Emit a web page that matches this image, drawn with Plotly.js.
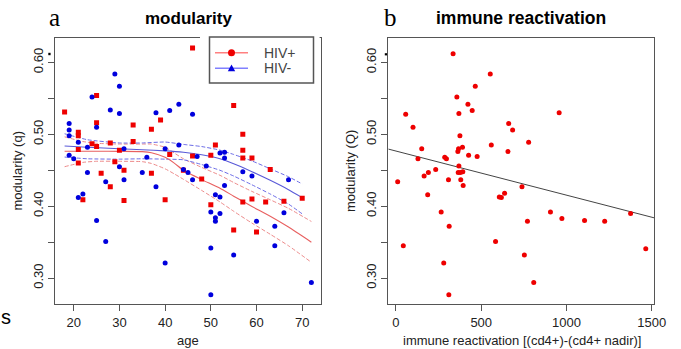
<!DOCTYPE html>
<html>
<head>
<meta charset="utf-8">
<script src="https://cdn.plot.ly/plotly-3.0.1.min.js"></script>
<style>html,body{margin:0;padding:0;background:#fff;}#chart{width:681px;height:349px;}</style>
</head>
<body>
<div id="chart"></div>
<script>
// ---------- data: panel a (modularity vs age) ----------
const hivPosAge = [18,25,25,21,21,33,39,37,33,28,24,25,21,30,41,21,29,31,26,37,28,22,31,40,44,46,55,57,51,57,46,50,57,59,63,48,50,57,59,62,66,70,55,60];
const hivPosQ   = [0.531,0.554,0.516,0.503,0.498,0.513,0.520,0.507,0.490,0.488,0.487,0.483,0.479,0.478,0.472,0.460,0.462,0.450,0.446,0.446,0.427,0.409,0.408,0.409,0.450,0.620,0.540,0.500,0.485,0.478,0.470,0.471,0.467,0.467,0.451,0.438,0.402,0.406,0.410,0.406,0.407,0.411,0.367,0.364];

const hivNegAge = [29,30,24,28,30,38,41,43,19,19,19,25,21,23,31,40,43,19,20,36,30,23,27,31,35,38,22,21,25,27,40,44,45,46,47,52,53,53,49,46,57,59,53,51,52,67,50,52,51,51,60,66,64,64,50,55,72,50];
const hivNegQ   = [0.584,0.567,0.552,0.534,0.529,0.530,0.533,0.542,0.515,0.506,0.498,0.510,0.489,0.482,0.480,0.480,0.485,0.471,0.466,0.468,0.455,0.447,0.434,0.437,0.447,0.427,0.417,0.412,0.380,0.351,0.321,0.451,0.447,0.528,0.469,0.474,0.475,0.467,0.456,0.437,0.448,0.442,0.429,0.416,0.413,0.437,0.392,0.390,0.384,0.379,0.379,0.391,0.372,0.345,0.342,0.332,0.294,0.277];

// fitted curves
const fitAgePos = [18,22,25,30,35,37,40,42,44,48,52,55,59,63,67,72];
const fitPosMid = [0.4765,0.4765,0.4765,0.4763,0.476,0.4745,0.468,0.460,0.450,0.437,0.425,0.414,0.3997,0.386,0.371,0.350];
const fitPosUp  = [0.4965,0.490,0.4875,0.4865,0.4865,0.4865,0.482,0.474,0.466,0.454,0.443,0.433,0.4206,0.409,0.397,0.3788];
const fitPosLo  = [0.455,0.461,0.4625,0.4625,0.462,0.4595,0.452,0.445,0.4375,0.422,0.406,0.393,0.3765,0.361,0.345,0.322];

const fitAgeNeg = [18,23,30,35,40,44,48,52,55,59,63,67,70];
const fitNegMid = [0.4837,0.482,0.480,0.4785,0.477,0.475,0.4715,0.466,0.459,0.448,0.436,0.423,0.412];
const fitNegUp  = [0.5008,0.4925,0.488,0.488,0.4893,0.486,0.483,0.478,0.472,0.463,0.452,0.441,0.431];
const fitNegLo  = [0.4684,0.466,0.4655,0.466,0.4655,0.4646,0.458,0.450,0.442,0.4298,0.417,0.403,0.3894];

// ---------- data: panel b (modularity vs immune reactivation) ----------
const immuneX = [335,553,465,357,422,447,369,57,957,100,661,684,375,778,559,151,390,367,363,657,426,476,286,296,129,369,233,190,165,365,378,392,308,380,10,394,739,186,637,606,618,265,906,1376,973,771,1106,1224,312,584,43,1465,753,280,808,310];
const immuneQ = [0.612,0.584,0.567,0.552,0.542,0.533,0.529,0.528,0.530,0.510,0.515,0.506,0.498,0.489,0.485,0.480,0.482,0.480,0.476,0.476,0.471,0.469,0.468,0.466,0.466,0.456,0.451,0.447,0.442,0.447,0.447,0.448,0.437,0.437,0.434,0.429,0.427,0.416,0.418,0.413,0.412,0.392,0.392,0.390,0.383,0.379,0.380,0.379,0.372,0.351,0.345,0.341,0.332,0.321,0.294,0.277];
const regLineX = [-45, 1515];
const regLineQ = [0.4795, 0.3838];

// tick labels
const ageTicks = [20,30,40,50,60,70];
const immuneTicks = [0,500,1000,1500];
const qTickVals = [0.30,0.35,0.40,0.45,0.50,0.55,0.60];
const qTickText = ['0.30','','0.40','','0.50','','0.60'];

// ---------- layout helpers ----------
const W = 681, H = 349;
const fx = p => p / W;
const fy = p => 1 - p / H;
const FONT = 'Liberation Sans, Arial, Helvetica, sans-serif';
const RED = '#ee0000', BLUE = '#0000dd';

const traces = [
  {x: fitAgePos, y: fitPosUp, mode:'lines', line:{color:'#ec8a8a', width:1, dash:'4px,2px', shape:'spline', smoothing:0.5}, xaxis:'x', yaxis:'y', hoverinfo:'skip'},
  {x: fitAgePos, y: fitPosLo, mode:'lines', line:{color:'#ec8a8a', width:1, dash:'4px,2px', shape:'spline', smoothing:0.5}, xaxis:'x', yaxis:'y', hoverinfo:'skip'},
  {x: fitAgeNeg, y: fitNegUp, mode:'lines', line:{color:'#6c6ce6', width:1, dash:'4px,2px', shape:'spline', smoothing:0.5}, xaxis:'x', yaxis:'y', hoverinfo:'skip'},
  {x: fitAgeNeg, y: fitNegLo, mode:'lines', line:{color:'#6c6ce6', width:1, dash:'4px,2px', shape:'spline', smoothing:0.5}, xaxis:'x', yaxis:'y', hoverinfo:'skip'},
  {x: fitAgePos, y: fitPosMid, mode:'lines', line:{color:'#e86060', width:1.1, shape:'spline', smoothing:0.5}, xaxis:'x', yaxis:'y', hoverinfo:'skip'},
  {x: fitAgeNeg, y: fitNegMid, mode:'lines', line:{color:'#5a5ad8', width:1.1, shape:'spline', smoothing:0.5}, xaxis:'x', yaxis:'y', hoverinfo:'skip'},
  {x: hivPosAge, y: hivPosQ, name:'HIV+', mode:'markers', marker:{symbol:'square', size:5, color:RED}, xaxis:'x', yaxis:'y'},
  {x: hivNegAge, y: hivNegQ, name:'HIV-', mode:'markers', marker:{symbol:'circle', size:5, color:BLUE}, xaxis:'x', yaxis:'y'},
  {x: regLineX, y: regLineQ, mode:'lines', line:{color:'#444', width:1}, xaxis:'x2', yaxis:'y2', hoverinfo:'skip'},
  {x: immuneX, y: immuneQ, mode:'markers', marker:{symbol:'circle', size:5, color:RED}, xaxis:'x2', yaxis:'y2'}
];

const axisBase = {
  showline:true, mirror:true, linecolor:'#555', linewidth:1,
  ticks:'outside', ticklen:6, tickcolor:'#555', tickwidth:1,
  showgrid:false, zeroline:false, automargin:false,
  tickfont:{family:FONT, size:13, color:'#222'}
};
const yDomain = [fy(304), fy(38)];

const layout = {
  width: W, height: H,
  margin:{l:0, r:0, t:0, b:0},
  paper_bgcolor:'#fff', plot_bgcolor:'#fff',
  showlegend:false,
  font:{family:FONT, color:'#222'},
  xaxis: Object.assign({}, axisBase, {domain:[fx(55), fx(320.5)], range:[15.9, 74.0], tickvals:ageTicks, anchor:'y'}),
  yaxis: Object.assign({}, axisBase, {domain:yDomain, range:[0.264, 0.634], tickvals:qTickVals, ticktext:qTickText, tickangle:-90, anchor:'x'}),
  xaxis2: Object.assign({}, axisBase, {domain:[fx(388.3), fx(654.3)], range:[-45, 1515], tickvals:immuneTicks, anchor:'y2'}),
  yaxis2: Object.assign({}, axisBase, {domain:yDomain, range:[0.264, 0.634], tickvals:qTickVals, ticktext:qTickText, tickangle:-90, anchor:'x2'}),
  shapes: [
    // gap in top frame behind legend
    {type:'rect', xref:'paper', yref:'paper', x0:fx(200), x1:fx(319.6), y0:fy(40), y1:fy(35.5), line:{width:0}, fillcolor:'#fff', layer:'above'},
    // legend box
    {type:'rect', xref:'paper', yref:'paper', x0:fx(209.5), x1:fx(313.5), y0:fy(83), y1:fy(37), line:{color:'#555', width:1.5}, fillcolor:'#fff', layer:'above'},
    {type:'line', xref:'paper', yref:'paper', x0:fx(215), x1:fx(248), y0:fy(52.7), y1:fy(52.7), line:{color:'#ff8080', width:1.5}, layer:'above'},
    {type:'circle', xref:'paper', yref:'paper', x0:fx(228), x1:fx(235), y0:fy(56.2), y1:fy(49.2), line:{color:RED, width:0}, fillcolor:RED, layer:'above'},
    {type:'line', xref:'paper', yref:'paper', x0:fx(215), x1:fx(248), y0:fy(68.3), y1:fy(68.3), line:{color:'#8080ff', width:1.5}, layer:'above'},
    {type:'path', xref:'paper', yref:'paper', path:`M ${fx(227.8)} ${fy(71.3)} L ${fx(235.2)} ${fy(71.3)} L ${fx(231.5)} ${fy(64.6)} Z`, line:{color:BLUE, width:0}, fillcolor:BLUE, layer:'above'},
    // small stray dots
    {type:'rect', xref:'paper', yref:'paper', x0:fx(48.3), x1:fx(50.6), y0:fy(55.2), y1:fy(52.8), line:{width:0}, fillcolor:'#000'},
    {type:'rect', xref:'paper', yref:'paper', x0:fx(384.8), x1:fx(387), y0:fy(55.4), y1:fy(53.2), line:{width:0}, fillcolor:'#000'}
  ],
  annotations: [
    {text:'a', x:fx(54), y:fy(17.5), xref:'paper', yref:'paper', showarrow:false, xanchor:'center', yanchor:'middle', font:{family:'Liberation Serif, Times New Roman, serif', size:25, color:'#000'}},
    {text:'b', x:fx(390.5), y:fy(17.5), xref:'paper', yref:'paper', showarrow:false, xanchor:'center', yanchor:'middle', font:{family:'Liberation Serif, Times New Roman, serif', size:25, color:'#000'}},
    {text:'<b>modularity</b>', x:fx(188), y:fy(18.5), xref:'paper', yref:'paper', showarrow:false, xanchor:'center', yanchor:'middle', font:{family:FONT, size:17, color:'#000'}},
    {text:'<b>immune reactivation</b>', x:fx(521), y:fy(18), xref:'paper', yref:'paper', showarrow:false, xanchor:'center', yanchor:'middle', font:{family:FONT, size:17.5, color:'#000'}},
    {text:'age', x:fx(188), y:fy(340), xref:'paper', yref:'paper', showarrow:false, xanchor:'center', yanchor:'middle', font:{family:FONT, size:13, color:'#222'}},
    {text:'immune reactivation [(cd4+)-(cd4+ nadir)]', x:fx(521.5), y:fy(340), xref:'paper', yref:'paper', showarrow:false, xanchor:'center', yanchor:'middle', font:{family:FONT, size:13, color:'#222'}},
    {text:'modularity (q)', x:fx(16.5), y:fy(171), xref:'paper', yref:'paper', showarrow:false, xanchor:'center', yanchor:'middle', textangle:-90, font:{family:FONT, size:13, color:'#222'}},
    {text:'modularity (Q)', x:fx(350), y:fy(171), xref:'paper', yref:'paper', showarrow:false, xanchor:'center', yanchor:'middle', textangle:-90, font:{family:FONT, size:13, color:'#222'}},
    {text:'HIV+', x:fx(262), y:fy(52.7), xref:'paper', yref:'paper', showarrow:false, xanchor:'left', yanchor:'middle', font:{family:FONT, size:14, color:'#444'}},
    {text:'HIV-', x:fx(262), y:fy(68.3), xref:'paper', yref:'paper', showarrow:false, xanchor:'left', yanchor:'middle', font:{family:FONT, size:14, color:'#444'}},
    {text:'s', x:0, y:fy(317), xref:'paper', yref:'paper', showarrow:false, xanchor:'left', yanchor:'middle', borderpad:0, font:{family:FONT, size:20, color:'#000'}}
  ]
};

Plotly.newPlot('chart', traces, layout, {staticPlot:true, displayModeBar:false});
</script>
</body>
</html>
